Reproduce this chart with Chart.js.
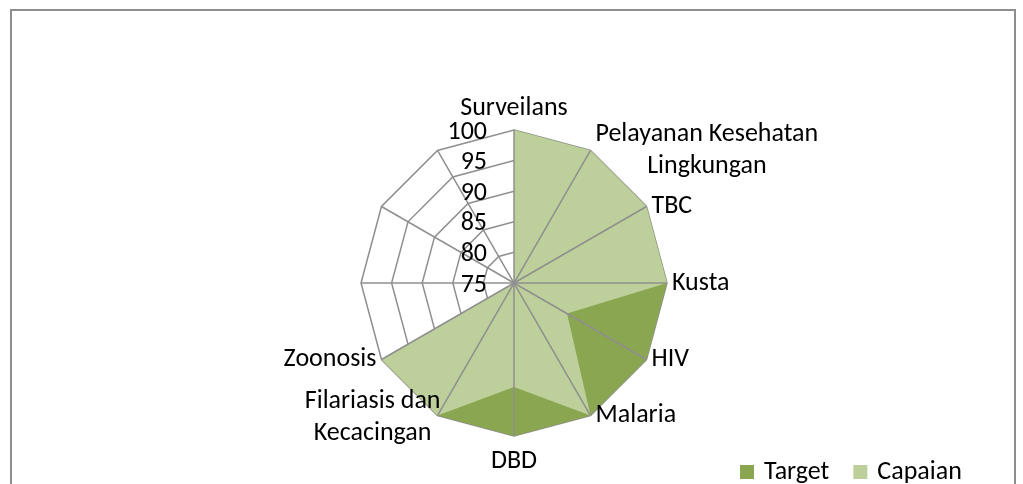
<!DOCTYPE html>
<html>
<head>
<meta charset="utf-8">
<title>Target dan Capaian P2P</title>
<script src="https://cdn.jsdelivr.net/npm/chart.js@4"></script>
<style>
  html, body { margin: 0; padding: 0; background: #fff; overflow: hidden; }
  #frame {
    position: absolute; left: 10px; top: 9px;
    width: 1006px; height: 520px;
    box-sizing: border-box;
    border: 2px solid #8d8d8d;
  }
  #wrap { position: absolute; left: 0; top: 0; width: 1023px; height: 484px; }
</style>
</head>
<body>
<div id="frame"></div>
<div id="wrap"><canvas id="radar"></canvas></div>
<script>
// categories (three trailing spokes have no name)
const categories = [
  "Surveilans",
  ["Pelayanan Kesehatan", "Lingkungan"],
  "TBC",
  "Kusta",
  "HIV",
  "Malaria",
  "DBD",
  ["Filariasis dan", "Kecacingan"],
  "Zoonosis",
  "", "", ""
];
const target  = [100, 100, 100, 100, 100, 100, 100, 100, 100, 0, 0, 0];
const capaian = [100, 100, 100, 100, 85, 100, 92, 100, 100, 0, 0, 0];
const tickValues = [75, 80, 85, 90, 95, 100];

const rMin = tickValues[0];
const rMax = tickValues[tickValues.length - 1];
const FONT = "Calibri, Carlito, Lato, sans-serif";
const gridColor = "#8f8f8f";
const darkGreen = "#8ba650";
const lightGreen = "#bdd09b";

// empty rows sit at the centre of the web
const clip = arr => arr.map(v => Math.max(v, rMin));

// spokes go over the filled areas, texts and legend on top of everything
const overlay = {
  id: "overlay",
  afterDatasetsDraw(chart) {
    const r = chart.scales.r;
    const ctx = chart.ctx;
    ctx.save();
    ctx.strokeStyle = gridColor;
    ctx.lineWidth = 1.5;
    categories.forEach((_, i) => {
      const p = r.getPointPosition(i, r.drawingArea);
      ctx.beginPath();
      ctx.moveTo(r.xCenter, r.yCenter);
      ctx.lineTo(p.x, p.y);
      ctx.stroke();
    });
    ctx.restore();
  },
  afterDraw(chart) {
    const r = chart.scales.r;
    const ctx = chart.ctx;
    ctx.save();
    ctx.fillStyle = "#000";
    ctx.font = "26px " + FONT;

    // value ticks, left of the top spoke
    ctx.textAlign = "right";
    ctx.textBaseline = "middle";
    r.ticks.forEach(t => {
      const y = r.yCenter - r.getDistanceFromCenterForValue(t.value);
      ctx.fillText(String(t.value), r.xCenter - 27, y + 2);
    });

    // category names around the web
    const lineH = 32;
    ctx.textAlign = "center";
    categories.forEach((lbl, i) => {
      if (!lbl) return;
      const lines = Array.isArray(lbl) ? lbl : [lbl];
      const p = r.getPointPosition(i, r.drawingArea);
      const deg = i * 360 / categories.length;
      const w = Math.max(...lines.map(t => ctx.measureText(t).width));
      const h = lines.length * lineH;
      let cx, cy;
      if (deg === 0) { cx = p.x; cy = p.y - 22; }
      else if (deg === 180) { cx = p.x; cy = p.y + 25; }
      else if (deg < 180) { cx = p.x + 5 + w / 2; cy = p.y; }
      else if (lines.length > 1) { cx = p.x + 3 - w / 2; cy = p.y + 2; }
      else { cx = p.x - 5 - w / 2; cy = p.y; }
      lines.forEach((t, k) => ctx.fillText(t, cx, cy - h / 2 + lineH * (k + 0.5)));
    });

    // legend, bottom right
    let x = 740;
    ctx.textAlign = "left";
    chart.data.datasets.forEach(ds => {
      ctx.fillStyle = ds.backgroundColor;
      ctx.fillRect(x, 465, 14, 14);
      ctx.fillStyle = "#000";
      ctx.fillText(ds.label, x + 24, 472);
      x += 24 + ctx.measureText(ds.label).width + 24;
    });
    ctx.restore();
  }
};

const ctx = document.getElementById("radar").getContext("2d");
new Chart(ctx, {
  type: "radar",
  data: {
    labels: categories,
    datasets: [
      {
        label: "Target",
        data: clip(target),
        backgroundColor: darkGreen,
        borderWidth: 0,
        pointRadius: 0,
        fill: true,
        order: 1
      },
      {
        label: "Capaian",
        data: clip(capaian),
        backgroundColor: lightGreen,
        borderWidth: 0,
        pointRadius: 0,
        fill: true,
        order: 0
      }
    ]
  },
  options: {
    responsive: true,
    maintainAspectRatio: false,
    animation: false,
    layout: { padding: { left: 361, right: 356, top: 130, bottom: 48 } },
    plugins: {
      legend: { display: false },
      tooltip: { enabled: false }
    },
    scales: {
      r: {
        min: rMin,
        max: rMax,
        ticks: { stepSize: 5, display: false },
        grid: { color: gridColor, lineWidth: 1.5 },
        angleLines: { display: false },
        pointLabels: { display: false }
      }
    }
  },
  plugins: [overlay]
});
</script>
</body>
</html>
